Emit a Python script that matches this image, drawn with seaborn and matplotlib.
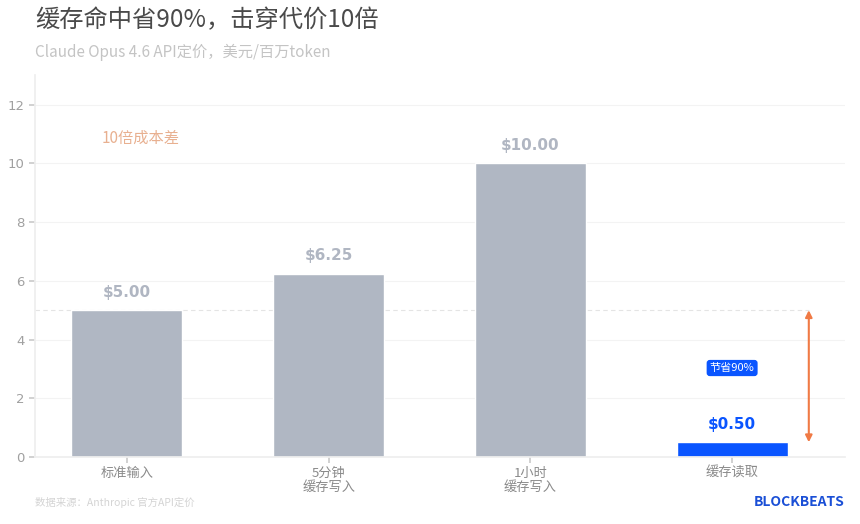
import matplotlib
matplotlib.use("Agg")
import matplotlib.pyplot as plt
import pandas as pd
import seaborn as sns

# data
categories = ["标准输入", "5分钟\n缓存写入", "1小时\n缓存写入", "缓存读取"]
prices = [5.00, 6.25, 10.00, 0.50]
price_labels = ["$5.00", "$6.25", "$10.00", "$0.50"]
bar_colors = ["#b0b7c3", "#b0b7c3", "#b0b7c3", "#0a55ff"]
label_colors = ["#b0b6c2", "#b0b6c2", "#b0b6c2", "#0a55ff"]
y_ticks = [0, 2, 4, 6, 8, 10, 12]

sns.set_theme(style="white")
plt.rcParams["font.family"] = ["Noto Sans CJK SC", "DejaVu Sans"]

df = pd.DataFrame({"category": categories, "price": prices})

fig = plt.figure(figsize=(8.6, 5.24), dpi=100)
ax = fig.add_axes([0.0407, 0.128, 0.942, 0.728])

# grid and dashed reference line sit behind the bars
for t in y_ticks[1:]:
    ax.axhline(t, color="#f3f3f3", lw=0.8, zorder=0)
ax.plot([-0.455, 3.38], [prices[0], prices[0]], ls=(0, (4, 3)),
        color="#e4e4e4", lw=0.8, zorder=0)

sns.barplot(data=df, x="category", y="price", hue="category",
            palette=bar_colors, width=0.55, legend=False, ax=ax,
            saturation=1, zorder=2)

ax.set_ylim(0, 13)
ax.set_xlim(-0.455, 3.56)
ax.set_yticks(y_ticks)
ax.set_xlabel("")
ax.set_ylabel("")

# value labels
for i, (v, lab, c) in enumerate(zip(prices, price_labels, label_colors)):
    ax.text(i, v + 0.62, lab, ha="center", va="center", fontsize=11,
            fontweight="bold", color=c, family=["DejaVu Sans"])

# savings arrow
ax.annotate("", xy=(3.38, prices[3]), xytext=(3.38, prices[0]),
            arrowprops=dict(arrowstyle="<|-|>", color="#f07a45", lw=1.5,
                            mutation_scale=10, shrinkA=0, shrinkB=0))

ax.text(3, 3.03, "节省90%", ha="center", va="center", fontsize=8,
        color="white",
        bbox=dict(boxstyle="round,pad=0.28", fc="#0a55ff", ec="none"))

ax.text(0.07, 10.85, "10倍成本差", ha="center", va="center", fontsize=11,
        color="#e8b090")

# spines and ticks
for s in ["top", "right"]:
    ax.spines[s].set_visible(False)
ax.spines["left"].set_color("#eeeeee")
ax.spines["bottom"].set_color("#eeeeee")
ax.tick_params(axis="both", which="both", length=4, color="#cccccc",
               labelsize=9.5, left=True, bottom=True)
ax.tick_params(axis="y", labelcolor="#a0a0a0")
ax.tick_params(axis="x", labelcolor="#8a8a8a", pad=3)
for lab in ax.get_yticklabels():
    lab.set_family(["DejaVu Sans"])
for lab in ax.get_xticklabels():
    lab.set_linespacing(1.1)

# titles
fig.text(0.0407, 0.962, "缓存命中省90%，击穿代价10倍", ha="left", va="center",
         fontsize=17.5, color="#4a4a4a")
fig.text(0.0407, 0.900, "Claude Opus 4.6 API定价，美元/百万token", ha="left",
         va="center", fontsize=11, color="#c4c4c4")

fig.text(0.0407, 0.042, "数据来源：Anthropic 官方API定价", ha="left",
         va="center", fontsize=7.5, color="#d4d4d4")
fig.text(0.982, 0.042, "BLOCKBEATS", ha="right", va="center", fontsize=10,
         fontweight="bold", color="#1a4fd6")

fig.savefig("out.png", dpi=100)
